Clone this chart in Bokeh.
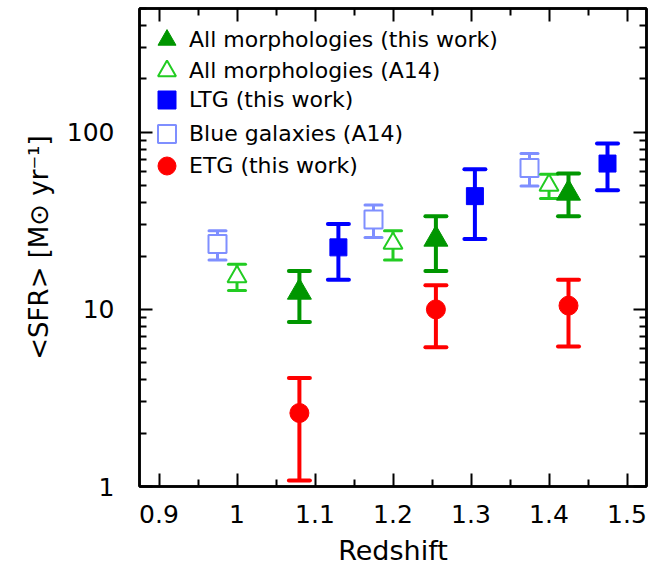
from bokeh.plotting import figure
from bokeh.models import (ColumnDataSource, LogAxis, LinearAxis, FixedTicker,
                          Legend, LegendItem, Range1d, CustomJSTickFormatter)
from bokeh.embed import file_html
from bokeh.resources import INLINE

# ---------------- data ----------------
# All morphologies (this work)
all_z = [1.08, 1.255, 1.425]
all_sfr = [12.5, 24.9, 45.3]
all_hi = [16.5, 33.6, 58.5]
all_lo = [8.5, 16.5, 33.6]

# All morphologies (A14)
a14_z = [1.0, 1.2, 1.4]
a14_sfr = [15.3, 23.6, 50.3]
a14_hi = [18.0, 27.8, 58.0]
a14_lo = [12.8, 19.0, 42.3]

# LTG (this work)
ltg_z = [1.13, 1.305, 1.475]
ltg_sfr = [22.4, 43.6, 66.6]
ltg_hi = [30.4, 61.9, 86.4]
ltg_lo = [14.7, 25.0, 47.1]

# Blue galaxies (A14)
blue_z = [0.975, 1.175, 1.375]
blue_sfr = [23.4, 32.2, 62.9]
blue_hi = [27.8, 38.9, 75.9]
blue_lo = [19.0, 25.5, 49.8]

# ETG (this work)
etg_z = [1.08, 1.255, 1.425]
etg_sfr = [2.60, 10.0, 10.5]
etg_hi = [4.10, 13.7, 14.7]
etg_lo = [1.08, 6.12, 6.17]

legend_labels = ["All morphologies (this work)", "All morphologies (A14)",
                 "LTG (this work)", "Blue galaxies (A14)", "ETG (this work)"]

x_ticks = [0.9, 1.0, 1.1, 1.2, 1.3, 1.4, 1.5]
x_tick_labels = ["0.9", "1", "1.1", "1.2", "1.3", "1.4", "1.5"]
x_minor = [0.95, 1.05, 1.15, 1.25, 1.35, 1.45]
y_ticks = [1, 10, 100]
y_tick_labels = ["1", "10", "100"]
y_minor = [2, 3, 4, 5, 6, 7, 8, 9, 20, 30, 40, 50, 60, 70, 80, 90, 200, 300, 400, 500]

FONT = "DejaVu Sans"

p = figure(width=662, height=568, x_range=Range1d(0.875, 1.525),
           y_range=Range1d(1, 500), y_axis_type="log",
           output_backend="svg", toolbar_location=None,
           min_border_left=139, min_border_right=16, min_border_top=8,
           min_border_bottom=81)
p.xgrid.visible = False
p.ygrid.visible = False
p.outline_line_color = "black"
p.outline_line_width = 2.5
p.background_fill_color = "white"

bottom_ax = p.xaxis[0]
left_ax = p.yaxis[0]

xt = FixedTicker(ticks=x_ticks, minor_ticks=x_minor)
yt = FixedTicker(ticks=y_ticks, minor_ticks=y_minor)

bottom_ax.ticker = xt
left_ax.ticker = yt
bottom_ax.major_label_overrides = {float(t): l for t, l in zip(x_ticks, x_tick_labels)}
left_ax.major_label_overrides = {float(t): l for t, l in zip(y_ticks, y_tick_labels)}

blank = CustomJSTickFormatter(code="return ''")
top_ax = LinearAxis(ticker=xt, formatter=blank)
right_ax = LogAxis(ticker=yt, formatter=blank)
p.add_layout(top_ax, "above")
p.add_layout(right_ax, "right")

for ax in [bottom_ax, left_ax, top_ax, right_ax]:
    ax.axis_line_width = 2.5
    ax.major_tick_in = 13
    ax.major_tick_out = 0
    ax.minor_tick_in = 7
    ax.minor_tick_out = 0
    ax.major_tick_line_width = 2
    ax.minor_tick_line_width = 2
    ax.major_label_text_font = FONT
    ax.major_label_text_font_size = "25px"
    ax.major_label_text_color = "black"
    ax.axis_label_text_font = FONT
    ax.axis_label_text_font_size = "27px"
    ax.axis_label_text_font_style = "normal"
    ax.axis_label_text_color = "black"

for ax in [top_ax, right_ax]:
    ax.major_label_standoff = 0

bottom_ax.axis_label = "Redshift"
bottom_ax.major_label_standoff = 18
bottom_ax.axis_label_standoff = 9
left_ax.axis_label = "<SFR> [M\u2299 yr\u207b\u00b9]"
left_ax.axis_label_text_font_size = "26px"
left_ax.major_label_standoff = 25
left_ax.axis_label_standoff = 10


def series(z, sfr, hi, lo, color, marker, size, fill, lw, cap, mlw):
    src = ColumnDataSource(dict(z=z, sfr=sfr, hi=hi, lo=lo))
    p.segment(x0="z", y0="lo", x1="z", y1="hi", source=src,
              line_color=color, line_width=lw)
    p.scatter(x="z", y="hi", source=src, marker="dash", size=cap,
              line_color=color, line_width=lw, line_cap="round")
    p.scatter(x="z", y="lo", source=src, marker="dash", size=cap,
              line_color=color, line_width=lw, line_cap="round")
    r = p.scatter(x="z", y="sfr", source=src, marker=marker, size=size,
                  line_color=color, fill_color=fill, line_width=mlw)
    return r


DGREEN = "#009600"
LGREEN = "#22cc22"
BLUE = "#0000ff"
LBLUE = "#7f8fff"
RED = "#ff0000"

r_blue = series(blue_z, blue_sfr, blue_hi, blue_lo, LBLUE, "square", 18, "white", 3, 17, 2)
r_a14 = series(a14_z, a14_sfr, a14_hi, a14_lo, LGREEN, "triangle", 19, "white", 3, 17, 2)
r_all = series(all_z, all_sfr, all_hi, all_lo, DGREEN, "triangle", 24, DGREEN, 4, 21, 1)
r_ltg = series(ltg_z, ltg_sfr, ltg_hi, ltg_lo, BLUE, "square", 17, BLUE, 4, 21, 1)
r_etg = series(etg_z, etg_sfr, etg_hi, etg_lo, RED, "circle", 19, RED, 4, 21, 1)

# one small legend per entry so the rows can sit closer than the key size
G = 45                              # key box (marker size = 0.4 * G)
key_left = 5                        # px from frame left
key_bottoms = [424, 393, 364, 330, 298]   # px from frame bottom
for lab, rend, yb in zip(legend_labels, [r_all, r_a14, r_ltg, r_blue, r_etg], key_bottoms):
    lg = Legend(items=[LegendItem(label=lab, renderers=[rend])],
                location=(key_left, yb), glyph_width=G, glyph_height=G,
                spacing=0, padding=0, margin=0, label_standoff=0,
                label_text_font=FONT, label_text_font_size="22px",
                label_text_color="black",
                border_line_color=None, background_fill_alpha=0)
    p.add_layout(lg)

open("out.html", "w").write(file_html(p, INLINE))
